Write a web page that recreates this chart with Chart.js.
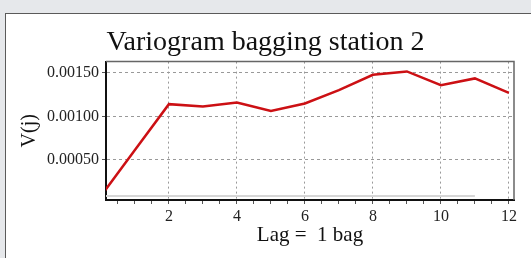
<!DOCTYPE html>
<html>
<head>
<meta charset="utf-8">
<script src="https://cdn.jsdelivr.net/npm/chart.js@4/dist/chart.umd.min.js"></script>
<style>
  html, body { margin: 0; padding: 0; background: #e6e8eb; overflow: hidden; }
  #panel {
    position: absolute; left: 5px; top: 13px; width: 540px; height: 260px;
    background: #fff; border-left: 1px solid #5a5a5a; border-top: 1px solid #5a5a5a;
  }
  #chart { position: absolute; left: 0; top: 0; }
</style>
</head>
<body>
<div id="panel"></div>
<canvas id="chart" width="531" height="258"></canvas>
<script>
const lags = [0, 1, 2, 3, 4, 5, 6, 7, 8, 9, 10, 11, 12];
const variogram = [0.000087, 0.000614, 0.001141, 0.001115, 0.001161, 0.001064, 0.001149,
  0.001302, 0.001478, 0.001517, 0.00136, 0.001437, 0.001271];
const refLags = [0, 11];
const refValues = [0.000085, 0.000085];
const xTickLabels = [2, 4, 6, 8, 10, 12];
const yTicks = [0.0005, 0.001, 0.0015];
const yTickLabels = ["0.00050", "0.00100", "0.00150"];

const serif = "'Liberation Serif', 'Times New Roman', serif";

// minor ticks every half lag along the bottom
const xMinor = [];
for (let v = 0.5; v <= 12; v += 0.5) xMinor.push(v);

const frame = {
  id: "frame",
  afterDatasetsDraw(chart) {
    const { ctx, chartArea: a } = chart;
    ctx.save();
    ctx.strokeStyle = "#666";
    ctx.lineWidth = 1.5;
    ctx.beginPath();
    ctx.moveTo(a.left, a.top);
    ctx.lineTo(a.right, a.top);
    ctx.lineTo(a.right, a.bottom);
    ctx.stroke();
    ctx.restore();
  }
};

new Chart(document.getElementById("chart"), {
  type: "line",
  data: {
    datasets: [
      {
        data: refLags.map((x, i) => ({ x, y: refValues[i] })),
        borderColor: "#d6d6d6",
        borderWidth: 2,
        pointRadius: 0,
        clip: 0
      },
      {
        data: lags.map((x, i) => ({ x, y: variogram[i] })),
        borderColor: "#cc1014",
        borderWidth: 2.5,
        pointRadius: 0,
        tension: 0,
        clip: 0
      }
    ]
  },
  options: {
    responsive: false,
    animation: false,
    layout: { padding: 0 },
    plugins: {
      legend: { display: false },
      tooltip: { enabled: false },
      title: {
        display: true,
        text: "Variogram bagging station 2",
        color: "#111",
        font: { family: serif, size: 28, weight: "normal" },
        padding: { top: 26, bottom: 2 }
      }
    },
    scales: {
      x: {
        type: "linear",
        min: 0.15,
        max: 12.15,
        afterBuildTicks: s => { s.ticks = xMinor.map(v => ({ value: v })); },
        afterFit: s => { s.height = 58; },
        ticks: {
          autoSkip: false,
          maxRotation: 0,
          padding: 3,
          color: "#222",
          font: { family: serif, size: 16 },
          callback: v => (xTickLabels.includes(v) ? String(v) : "")
        },
        grid: {
          color: c => (c.tick && xTickLabels.includes(c.tick.value) ? "#999" : "rgba(0,0,0,0)"),
          lineWidth: 1,
          tickColor: "#555",
          tickLength: 4,
          tickBorderDash: []
        },
        border: { color: "#111", width: 2, dash: [2, 3] },
        title: {
          display: true,
          text: "Lag =  1 bag",
          color: "#111",
          font: { family: serif, size: 21 },
          padding: { top: 0, bottom: 10 }
        }
      },
      y: {
        min: 0.00004,
        max: 0.00163,
        afterBuildTicks: s => { s.ticks = yTicks.map(v => ({ value: v })); },
        afterFit: s => { s.width = 106; },
        ticks: {
          padding: 3,
          color: "#222",
          font: { family: serif, size: 16 },
          callback: v => yTickLabels[yTicks.indexOf(v)]
        },
        grid: { color: "#999", lineWidth: 1, tickColor: "#555", tickLength: 4, tickBorderDash: [] },
        border: { color: "#111", width: 2, dash: [3, 3] },
        title: {
          display: true,
          text: "V(j)",
          color: "#111",
          font: { family: serif, size: 20 },
          padding: { top: 18, bottom: 0 }
        }
      },
      // empty right strip so the title centres on the whole panel
      yRight: {
        type: "linear",
        position: "right",
        display: true,
        ticks: { display: false },
        grid: { display: false },
        border: { display: false },
        afterFit: s => { s.width = 17; }
      }
    }
  },
  plugins: [frame]
});
</script>
</body>
</html>
